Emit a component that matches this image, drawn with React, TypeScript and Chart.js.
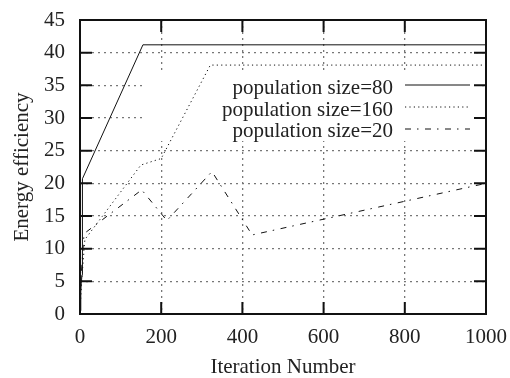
import React, { useEffect, useRef } from "react";
import { Chart, registerables } from "chart.js";

Chart.register(...registerables);

const xTicks = [0, 200, 400, 600, 800, 1000];
const yTicks = [0, 5, 10, 15, 20, 25, 30, 35, 40, 45];

const labels = ["population size=80", "population size=160", "population size=20"];

const iters80 = [0, 2, 5, 6, 155, 1000];
const values80 = [0.5, 4, 6, 20.7, 41.2, 41.2];

const iters160 = [0, 4, 12, 150, 200, 321, 1000];
const values160 = [0.3, 5, 11.4, 22.8, 23.8, 38.1, 38.1];

const iters20 = [0, 3, 10, 152, 214, 325, 424, 1000];
const values20 = [0.5, 6, 12.3, 19, 14.3, 21.8, 12.1, 20];

const dashes: number[][] = [[], [1.2, 3.2], [6, 6, 1.5, 6.5]];

const FONT = "Liberation Serif";

const toPoints = (xs: number[], ys: number[]) => xs.map((x, i) => ({ x, y: ys[i] }));

const decorPlugin = {
  id: "decor",
  beforeDatasetsDraw(chart: any) {
    const ctx = chart.ctx;
    ctx.save();
    ctx.fillStyle = "#fff";
    ctx.fillRect(146, 73, 336, 68);
    ctx.restore();
  },
  afterDraw(chart: any) {
    const ctx = chart.ctx;
    const a = chart.chartArea;
    const xs = chart.scales.x;
    const ys = chart.scales.y;
    ctx.save();
    ctx.strokeStyle = "#111";
    ctx.lineWidth = 2;
    ctx.setLineDash([]);
    ctx.strokeRect(a.left, a.top, a.right - a.left, a.bottom - a.top);
    const tl = 12;
    ctx.beginPath();
    xTicks.forEach((v) => {
      const px = xs.getPixelForValue(v);
      ctx.moveTo(px, a.bottom);
      ctx.lineTo(px, a.bottom - tl);
      ctx.moveTo(px, a.top);
      ctx.lineTo(px, a.top + tl);
    });
    yTicks.forEach((v) => {
      const py = ys.getPixelForValue(v);
      ctx.moveTo(a.left, py);
      ctx.lineTo(a.left + tl, py);
      ctx.moveTo(a.right, py);
      ctx.lineTo(a.right - tl, py);
    });
    ctx.stroke();

    // legend
    ctx.font = `21px "${FONT}"`;
    ctx.fillStyle = "#222";
    ctx.textAlign = "right";
    ctx.textBaseline = "alphabetic";
    const baselines = [94, 115.5, 137];
    const sampleY = [85, 107, 129];
    labels.forEach((t, i) => {
      ctx.fillText(t, 393, baselines[i]);
      ctx.beginPath();
      ctx.lineWidth = 1;
      ctx.strokeStyle = "#111";
      ctx.setLineDash(dashes[i]);
      ctx.moveTo(405, sampleY[i]);
      ctx.lineTo(470, sampleY[i]);
      ctx.stroke();
    });
    ctx.restore();
  },
};

export default function App() {
  const ref = useRef<HTMLCanvasElement>(null);
  useEffect(() => {
    document.body.style.margin = "0";
    const canvas = ref.current!;
    const tickFont = { family: FONT, size: 21, lineHeight: 1 };
    const chart = new Chart(canvas, {
      type: "line",
      data: {
        datasets: [
          { label: labels[0], data: toPoints(iters80, values80), borderDash: dashes[0] },
          { label: labels[1], data: toPoints(iters160, values160), borderDash: dashes[1] },
          { label: labels[2], data: toPoints(iters20, values20), borderDash: dashes[2] },
        ].map((d) => ({
          ...d,
          borderColor: "#111",
          backgroundColor: "#111",
          borderWidth: 1,
          pointRadius: 0,
          tension: 0,
          fill: false,
        })),
      },
      options: {
        responsive: false,
        animation: false,
        devicePixelRatio: 1,
        layout: { padding: { top: 20, right: 24, left: 0, bottom: 0 } },
        plugins: { legend: { display: false }, tooltip: { enabled: false } },
        scales: {
          x: {
            type: "linear",
            min: 0,
            max: 1000,
            afterFit: (s: any) => {
              s.height = 64;
              s.paddingLeft = 0;
              s.paddingRight = 0;
              s.paddingTop = 0;
              s.paddingBottom = 0;
            },
            afterBuildTicks: (s: any) => {
              s.ticks = xTicks.map((v) => ({ value: v }));
            },
            ticks: {
              font: tickFont,
              color: "#222",
              padding: 12.5,
              maxRotation: 0,
              callback: (v: any) => String(v),
            },
            grid: {
              drawTicks: false,
              color: (c: any) =>
                c.tick && (c.tick.value === 0 || c.tick.value === 1000) ? "rgba(0,0,0,0)" : "#777",
              lineWidth: 1.3,
            },
            border: { display: false, dash: [2, 4] },
            title: {
              display: true,
              text: "Iteration Number",
              font: { family: FONT, size: 21, lineHeight: 1 },
              color: "#222",
              padding: { top: 0, bottom: 0 },
            },
          },
          y: {
            type: "linear",
            min: 0,
            max: 45,
            afterFit: (s: any) => {
              s.width = 80;
              s.paddingLeft = 0;
              s.paddingRight = 0;
              s.paddingTop = 0;
              s.paddingBottom = 0;
            },
            afterBuildTicks: (s: any) => {
              s.ticks = yTicks.map((v) => ({ value: v }));
            },
            ticks: { font: tickFont, color: "#222", padding: 15, callback: (v: any) => String(v) },
            grid: {
              drawTicks: false,
              color: (c: any) =>
                c.tick && (c.tick.value === 0 || c.tick.value === 45) ? "rgba(0,0,0,0)" : "#777",
              lineWidth: 1.3,
            },
            border: { display: false, dash: [2, 4] },
            title: {
              display: true,
              text: "Energy efficiency",
              font: { family: FONT, size: 21, lineHeight: 1 },
              color: "#222",
              padding: { top: 11.5, bottom: 0 },
            },
          },
        },
      },
      plugins: [decorPlugin],
    });
    return () => chart.destroy();
  }, []);
  return <canvas ref={ref} width={510} height={378} style={{ display: "block" }} />;
}
